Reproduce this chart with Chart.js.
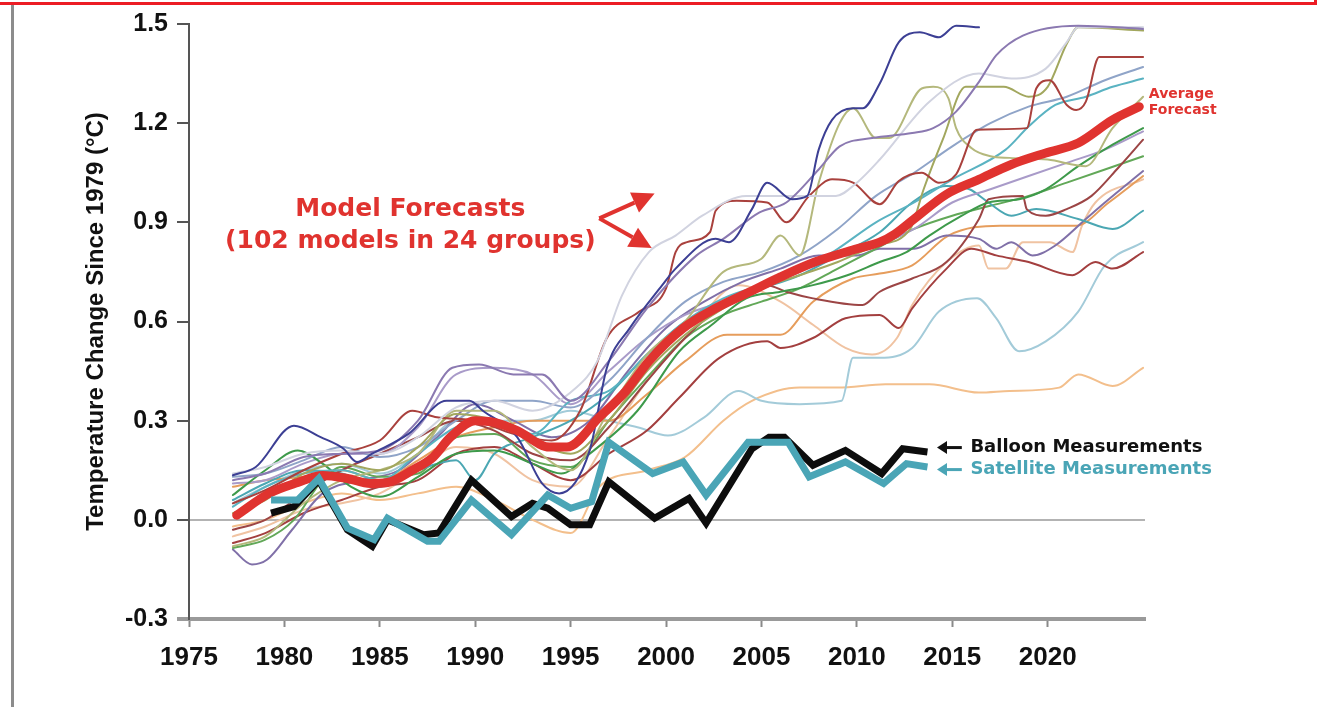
<!DOCTYPE html>
<html>
<head>
<meta charset="utf-8">
<script src="https://cdn.jsdelivr.net/npm/chart.js@4.4.1/dist/chart.umd.min.js"></script>
<style>
  html, body { margin: 0; padding: 0; background: #fff; }
  #wrap { position: relative; width: 1321px; height: 707px; }
  #frame { position: absolute; left: 0; top: 0; width: 1314px; height: 2px;
           border-bottom: 3px solid #ec1c24; border-right: 3px solid #ec1c24; }
  #rule { position: absolute; left: 11px; top: 5px; width: 3px; height: 702px; background: #8c8c8c; }
</style>
</head>
<body>
<div id="wrap">
  <canvas id="chart"></canvas>
  <div id="frame"></div>
  <div id="rule"></div>
</div>
<script>
// ---- data: [year, °C change since 1979] ----
const averageForecast = [[1977.5,0.014],[1979.2,0.08],[1980.7,0.113],[1982,0.134],[1983.3,0.125],[1984.5,0.11],[1985.4,0.113],[1986.7,0.15],[1987.8,0.19],[1988.7,0.25],[1990,0.30],[1991,0.295],[1992.2,0.27],[1993.9,0.22],[1994.8,0.22],[1996.5,0.31],[1997.9,0.39],[1999.1,0.48],[2000.9,0.58],[2002.6,0.64],[2004.4,0.69],[2006,0.735],[2007.8,0.78],[2010,0.82],[2011.2,0.84],[2012,0.865],[2013,0.91],[2014.7,0.985],[2016.4,1.03],[2018.1,1.075],[2019.9,1.11],[2021.6,1.14],[2023.4,1.21],[2024.8,1.25]];

const balloon = [[1979.3,0.02],[1980.5,0.04],[1981.8,0.12],[1983.3,-0.03],[1984.6,-0.08],[1985.4,0.0],[1987.3,-0.045],[1988.1,-0.04],[1989.8,0.12],[1991.9,0.01],[1993,0.05],[1993.8,0.035],[1995,-0.015],[1996,-0.015],[1997,0.115],[1999.4,0.005],[2001.2,0.065],[2002.1,-0.01],[2004.5,0.215],[2005.4,0.25],[2006.2,0.25],[2007.7,0.165],[2009.4,0.21],[2011.3,0.14],[2012.4,0.215],[2013.7,0.205]];

const satellite = [[1979.3,0.06],[1980.7,0.06],[1981.8,0.125],[1983.3,-0.025],[1984.7,-0.06],[1985.4,0.005],[1987.5,-0.065],[1988.1,-0.065],[1989.8,0.06],[1991.9,-0.045],[1993.8,0.075],[1995,0.035],[1996.1,0.055],[1997,0.235],[1999.3,0.14],[2000.9,0.175],[2002.1,0.075],[2004.3,0.235],[2006.4,0.235],[2007.5,0.13],[2009.4,0.175],[2011.4,0.11],[2012.6,0.17],[2013.7,0.16]];

// model group runs (thin lines)
const navyModel = [[1977.3,0.135],[1978.5,0.16],[1980.5,0.285],[1981.9,0.25],[1983.1,0.215],[1983.8,0.175],[1984.6,0.2],[1986.5,0.26],[1988.5,0.36],[1989.7,0.36],[1990.4,0.33],[1992.2,0.25],[1993.5,0.11],[1994.4,0.08],[1996,0.21],[1996.9,0.46],[1998.1,0.58],[1999.8,0.71],[2000.5,0.76],[2002.6,0.85],[2003.3,0.84],[2004.5,0.94],[2005.3,1.02],[2006.6,0.97],[2007.4,0.98],[2008,1.12],[2008.7,1.21],[2009.8,1.245],[2010.3,1.245],[2011.2,1.32],[2012.2,1.445],[2013.3,1.475],[2014.3,1.46],[2015.2,1.495],[2016.4,1.49]];
const greyModel = [[1977.3,0.14],[1979,0.16],[1981,0.2],[1983,0.21],[1985,0.2],[1987,0.25],[1989,0.34],[1991,0.36],[1993,0.33],[1995.3,0.40],[1996.4,0.48],[1997.7,0.68],[1999.1,0.81],[2000.5,0.86],[2001.9,0.92],[2004.2,0.98],[2006.3,0.98],[2008.9,0.98],[2010,1.02],[2011.2,1.09],[2013.8,1.265],[2016.4,1.35],[2018.1,1.335],[2019.9,1.365],[2021,1.445],[2021.6,1.49],[2025,1.49]];
const purpleModel = [[1977.3,0.12],[1979,0.14],[1981,0.19],[1983,0.2],[1985,0.21],[1987,0.3],[1988.8,0.46],[1990.2,0.47],[1992,0.44],[1993.5,0.44],[1995,0.36],[1997,0.48],[1999,0.64],[2001.6,0.80],[2003,0.85],[2004.9,0.93],[2006.3,0.96],[2008,1.06],[2009.1,1.13],[2010.8,1.155],[2012.9,1.17],[2014,1.185],[2015.2,1.235],[2016.4,1.325],[2017.3,1.405],[2018.7,1.465],[2021.6,1.495],[2025,1.485]];
const oliveModel = [[1977.3,0.02],[1979,0.06],[1981,0.14],[1983,0.17],[1985,0.15],[1987,0.22],[1989,0.32],[1991,0.3],[1993,0.24],[1995,0.2],[1997,0.3],[1999,0.45],[2001,0.56],[2003,0.64],[2005,0.7],[2007,0.74],[2009,0.78],[2011,0.83],[2012.8,0.88],[2013.5,1.0],[2014.5,1.15],[2015.7,1.31],[2017.7,1.31],[2019,1.28],[2020,1.31],[2021,1.44],[2021.6,1.49],[2025,1.48]];
const paleOliveModel = [[1977.3,-0.08],[1979,-0.05],[1981,0.05],[1983,0.12],[1985,0.15],[1987,0.2],[1989,0.33],[1991,0.33],[1993,0.22],[1995,0.15],[1997,0.33],[1999,0.5],[2001,0.6],[2003,0.75],[2005,0.79],[2006,0.86],[2007,0.8],[2008,1.02],[2009.1,1.2],[2009.8,1.245],[2011,1.155],[2011.7,1.155],[2013.4,1.305],[2014,1.31],[2014.8,1.275],[2015.2,1.185],[2016,1.125],[2017,1.10],[2018,1.095],[2020,1.09],[2022,1.07],[2023.4,1.185],[2025,1.28]];
const brickModel = [[1977.3,0.05],[1979,0.09],[1981,0.15],[1983,0.2],[1985,0.24],[1986.7,0.33],[1988,0.31],[1990,0.3],[1992,0.26],[1994,0.24],[1995.5,0.33],[1996.9,0.55],[1998.6,0.63],[2000,0.7],[2000.5,0.81],[2001.1,0.84],[2002.3,0.87],[2002.6,0.935],[2003.7,0.965],[2005.3,0.96],[2006.3,0.90],[2007.5,0.98],[2008.7,1.03],[2009.8,1.02],[2011.2,0.955],[2012.2,1.025],[2013.4,1.05],[2014.3,1.02],[2015.2,1.045],[2016.3,1.18],[2018.9,1.185],[2019.4,1.305],[2020.1,1.33],[2021,1.255],[2021.5,1.24],[2022,1.265],[2022.7,1.40],[2025,1.40]];
const steelModel = [[1977.3,0.13],[1979,0.14],[1981,0.18],[1983,0.22],[1985,0.19],[1987,0.22],[1989,0.3],[1991,0.36],[1993,0.36],[1995,0.34],[1997,0.42],[1999,0.55],[2001,0.66],[2003,0.72],[2005,0.75],[2007,0.8],[2009,0.88],[2011,0.98],[2013,1.05],[2015,1.13],[2017,1.2],[2019,1.25],[2021,1.28],[2023,1.33],[2025,1.37]];
const aquaModel = [[1977.3,0.04],[1979,0.1],[1981,0.14],[1983,0.15],[1985,0.12],[1987,0.2],[1989,0.28],[1991,0.3],[1993,0.26],[1995,0.36],[1997,0.39],[1999,0.5],[2001,0.6],[2003,0.67],[2005,0.71],[2007,0.75],[2009,0.82],[2011,0.9],[2013,0.96],[2015,1.03],[2017.8,1.12],[2019,1.19],[2020.4,1.255],[2022,1.28],[2023.4,1.31],[2025,1.335]];
const greenModel = [[1977.3,0.075],[1979,0.15],[1980.7,0.21],[1982,0.17],[1983.5,0.10],[1985,0.07],[1987,0.13],[1989,0.2],[1991,0.21],[1993,0.17],[1994.5,0.14],[1996,0.2],[1998.5,0.33],[2000.7,0.51],[2002.4,0.59],[2004.2,0.67],[2006,0.69],[2007.7,0.71],[2009.5,0.74],[2011.2,0.78],[2012.6,0.81],[2013.8,0.86],[2015.5,0.92],[2016.9,0.96],[2018.5,0.97],[2019.9,1.0],[2021.6,1.07],[2023.4,1.135],[2025,1.185]];
const lavenderModel = [[1977.3,0.11],[1979,0.12],[1981,0.17],[1983,0.2],[1985,0.2],[1987,0.28],[1989,0.44],[1991,0.46],[1993,0.44],[1995,0.35],[1997,0.45],[1999,0.55],[2001,0.62],[2003,0.66],[2005,0.70],[2007,0.76],[2009,0.80],[2011,0.83],[2013,0.88],[2015,0.96],[2017,1.0],[2019,1.04],[2021,1.08],[2023,1.12],[2025,1.175]];
const maroonModel = [[1977.3,-0.03],[1979,0.0],[1981,0.08],[1983,0.15],[1985,0.2],[1987,0.25],[1989,0.3],[1991,0.27],[1993,0.2],[1995,0.18],[1997,0.28],[1999,0.42],[2001,0.55],[2003,0.65],[2005.3,0.71],[2006.3,0.69],[2007.7,0.67],[2010.3,0.65],[2011.2,0.69],[2012.9,0.73],[2014.7,0.78],[2016.4,0.91],[2016.9,0.97],[2018.7,0.98],[2018.9,0.94],[2019.9,0.92],[2021,0.94],[2022.3,0.98],[2023.7,1.065],[2025,1.15]];
const violetModel = [[1977.3,-0.09],[1978.3,-0.135],[1979.1,-0.12],[1980.4,-0.03],[1982,0.08],[1984,0.12],[1986,0.15],[1988,0.25],[1990,0.35],[1992,0.3],[1994,0.25],[1996,0.3],[1998,0.45],[2000,0.58],[2002,0.66],[2004,0.72],[2006,0.76],[2008,0.80],[2010,0.80],[2011.2,0.82],[2013,0.82],[2014.7,0.86],[2016.4,0.85],[2017.3,0.82],[2018.1,0.84],[2019.2,0.80],[2020.4,0.83],[2022,0.91],[2023,0.96],[2025,1.055]];
const orangeModel = [[1977.3,0.1],[1979,0.12],[1981,0.13],[1983,0.15],[1985,0.12],[1987,0.18],[1989,0.25],[1991,0.28],[1993,0.3],[1995,0.3],[1997,0.3],[1999,0.38],[2001,0.48],[2003.2,0.56],[2006,0.56],[2007.7,0.66],[2009.8,0.73],[2011.2,0.745],[2012.9,0.77],[2014.8,0.86],[2017.5,0.89],[2019,0.89],[2021.5,0.89],[2023.2,0.96],[2025,1.04]];
const peachModel = [[1977.3,-0.05],[1979,-0.02],[1981,0.03],[1983,0.05],[1985,0.08],[1987,0.15],[1989,0.22],[1991,0.2],[1993,0.12],[1995,0.1],[1997,0.25],[1999,0.42],[2001,0.55],[2003.8,0.71],[2006,0.66],[2007.7,0.59],[2009.4,0.52],[2010.8,0.50],[2012.1,0.55],[2012.9,0.65],[2014.7,0.78],[2016.4,0.83],[2016.9,0.76],[2017.8,0.76],[2018.7,0.84],[2020.1,0.84],[2021.3,0.81],[2021.8,0.89],[2022.5,0.96],[2025,1.03]];
const tealModel = [[1977.3,0.06],[1979,0.11],[1981,0.15],[1983,0.14],[1985,0.1],[1987,0.15],[1989,0.18],[1990,0.12],[1991,0.2],[1993,0.25],[1995,0.3],[1997,0.38],[1999,0.5],[2001,0.6],[2003,0.66],[2005,0.7],[2007,0.74],[2009,0.8],[2011.2,0.87],[2012.9,0.96],[2014.7,1.01],[2015.9,1.0],[2016.9,0.96],[2018.1,0.92],[2019.4,0.94],[2021.6,0.91],[2023.4,0.88],[2025,0.935]];
const skyModel = [[1977.3,0.05],[1979,0.1],[1981,0.15],[1983,0.17],[1985,0.14],[1987,0.2],[1989,0.3],[1991,0.3],[1993,0.3],[1995,0.33],[1997,0.30],[1998.5,0.28],[2000.1,0.255],[2002,0.31],[2003.8,0.39],[2005,0.36],[2007,0.35],[2009.2,0.36],[2009.8,0.49],[2011.2,0.49],[2012.9,0.52],[2014.3,0.63],[2016.3,0.67],[2017.3,0.61],[2018.5,0.51],[2019.9,0.54],[2021.6,0.63],[2023,0.77],[2025,0.84]];
const rustModel = [[1977.3,-0.07],[1979,-0.04],[1981,0.02],[1983,0.06],[1985,0.1],[1987,0.12],[1989,0.2],[1991,0.22],[1993,0.17],[1995,0.12],[1997,0.2],[1999,0.27],[2000.7,0.37],[2002.8,0.49],[2005.3,0.54],[2006,0.52],[2007.7,0.55],[2009.4,0.61],[2011.2,0.62],[2012.2,0.58],[2012.9,0.64],[2014.7,0.76],[2016,0.82],[2017.3,0.80],[2019,0.78],[2021.3,0.74],[2022.5,0.78],[2023.4,0.76],[2025,0.81]];
const apricotModel = [[1977.3,-0.02],[1979,0.0],[1981,0.05],[1983,0.08],[1985,0.06],[1987,0.08],[1989,0.1],[1991,0.06],[1993,0.0],[1995,-0.04],[1996.5,0.1],[1999,0.15],[2001,0.19],[2003,0.30],[2004.5,0.36],[2007,0.40],[2009,0.40],[2011.5,0.41],[2013.8,0.41],[2016.4,0.385],[2018,0.39],[2020.6,0.40],[2021.6,0.44],[2023.4,0.405],[2025,0.46]];
const fernModel = [[1977.3,-0.085],[1979,-0.06],[1980.5,0.0],[1982,0.12],[1983,0.16],[1985,0.13],[1987,0.14],[1989,0.25],[1991,0.26],[1993,0.18],[1995,0.16],[1997,0.3],[1999,0.43],[2001,0.55],[2003,0.62],[2005,0.66],[2007,0.7],[2009,0.76],[2011,0.82],[2013,0.88],[2015,0.92],[2017,0.95],[2019,0.98],[2021,1.02],[2023,1.06],[2025,1.10]];

const modelRuns = [
  [apricotModel, '#f3bf8c'], [skyModel, '#a3cbd9'], [peachModel, '#f0c3a2'],
  [rustModel, '#a33f3f'], [orangeModel, '#e69d5c'], [violetModel, '#8070a8'],
  [fernModel, '#62a858'], [tealModel, '#4ba7b3'], [maroonModel, '#9c4545'],
  [lavenderModel, '#a99bc9'], [greenModel, '#3e9a4b'], [aquaModel, '#5ab3c2'],
  [steelModel, '#8fa4c8'], [paleOliveModel, '#b4b87c'], [oliveModel, '#a2a75e'],
  [brickModel, '#a9413d'], [greyModel, '#d1d3e0'], [purpleModel, '#8b79b1'],
  [navyModel, '#3c3f94']
];

const yearTicks = [1975, 1980, 1985, 1990, 1995, 2000, 2005, 2010, 2015, 2020];
const forecastNote = ['Model Forecasts', '(102 models in 24 groups)'];
const averageNote = ['Average', 'Forecast'];
const balloonNote = 'Balloon Measurements';
const satelliteNote = 'Satellite Measurements';

const RED = '#e0332f';
const SAT = '#4aa5b6';

function arrow(ctx, x0, y0, x1, y1, color, width, headLen, headW) {
  const a = Math.atan2(y1 - y0, x1 - x0);
  const bx = x1 - Math.cos(a) * headLen, by = y1 - Math.sin(a) * headLen;
  ctx.strokeStyle = color; ctx.fillStyle = color; ctx.lineWidth = width;
  ctx.beginPath(); ctx.moveTo(x0, y0); ctx.lineTo(bx, by); ctx.stroke();
  ctx.beginPath();
  ctx.moveTo(x1, y1);
  ctx.lineTo(bx + Math.sin(a) * headW / 2, by - Math.cos(a) * headW / 2);
  ctx.lineTo(bx - Math.sin(a) * headW / 2, by + Math.cos(a) * headW / 2);
  ctx.closePath(); ctx.fill();
}

const notes = {
  id: 'notes',
  afterDatasetsDraw(chart) {
    const { ctx, scales: { x, y } } = chart;
    const px = v => x.getPixelForValue(v), py = v => y.getPixelForValue(v);
    ctx.save();
    ctx.textBaseline = 'middle';

    ctx.fillStyle = RED;
    ctx.textAlign = 'center';
    ctx.font = 'bold 25px "DejaVu Sans"';
    ctx.fillText(forecastNote[0], px(1986.6), py(0.939));
    ctx.fillText(forecastNote[1], px(1986.6), py(0.843));
    arrow(ctx, px(1996.5), py(0.912), px(1999.4), py(0.987), RED, 4, 22, 22);
    arrow(ctx, px(1996.5), py(0.912), px(1999.25), py(0.822), RED, 4, 22, 22);

    ctx.textAlign = 'left';
    ctx.font = 'bold 14px "DejaVu Sans"';
    ctx.fillText(averageNote[0], px(2025.3), py(1.286));
    ctx.fillText(averageNote[1], px(2025.3), py(1.240));

    ctx.font = 'bold 18px "DejaVu Sans"';
    ctx.fillStyle = '#111';
    ctx.fillText(balloonNote, px(2015.95), py(0.2186));
    arrow(ctx, px(2015.5), py(0.2186), px(2014.2), py(0.2186), '#111', 3, 10, 13);
    ctx.fillStyle = SAT;
    ctx.fillText(satelliteNote, px(2015.95), py(0.152));
    arrow(ctx, px(2015.5), py(0.152), px(2014.2), py(0.152), SAT, 3, 10, 13);
    ctx.restore();
  }
};

const thin = ([data, color]) => ({
  data, borderColor: color, borderWidth: 2, pointRadius: 0,
  cubicInterpolationMode: 'monotone', borderCapStyle: 'round', borderJoinStyle: 'round'
});

const bottomTick = c => Math.abs(c.tick.value + 0.3) < 1e-6;

new Chart(document.getElementById('chart'), {
  type: 'line',
  data: {
    datasets: [
      { data: satellite, borderColor: SAT, borderWidth: 7, pointRadius: 0, tension: 0, borderJoinStyle: 'miter' },
      { data: balloon, borderColor: '#0d0d0d', borderWidth: 7, pointRadius: 0, tension: 0, borderJoinStyle: 'miter' },
      { data: averageForecast, borderColor: RED, borderWidth: 9, pointRadius: 0, cubicInterpolationMode: 'monotone', borderCapStyle: 'round' },
      ...modelRuns.slice().reverse().map(thin)
    ]
  },
  options: {
    responsive: true,
    maintainAspectRatio: false,
    animation: false,
    events: [],
    layout: { padding: { left: 0, top: 22, right: 176, bottom: 0 } },
    plugins: { legend: { display: false }, tooltip: { enabled: false } },
    scales: {
      x: {
        type: 'linear', min: 1975, max: 2025.1,
        afterBuildTicks: axis => { axis.ticks = yearTicks.map(v => ({ value: v })); },
        afterFit: axis => { axis.height = 88; },
        border: { color: '#9a9a9a', width: 4 },
        grid: { drawOnChartArea: false, tickLength: 8, tickColor: '#8a8a8a', tickWidth: 2 },
        ticks: { color: '#111', padding: 15, maxRotation: 0, font: { family: '"Liberation Sans", Arial', weight: 'bold', size: 26 },
                 callback: v => String(v) }
      },
      y: {
        min: -0.3, max: 1.5,
        afterFit: axis => { axis.width = 189; },
        border: { color: '#555', width: 2 },
        grid: {
          color: c => Math.abs(c.tick.value) < 1e-6 ? '#b3b3b3' : 'rgba(0,0,0,0)',
          lineWidth: 2, tickLength: 12,
          tickColor: c => bottomTick(c) ? '#9a9a9a' : '#555',
          tickWidth: c => bottomTick(c) ? 4 : 2
        },
        ticks: { stepSize: 0.3, color: '#111', padding: 9,
                 font: { family: '"Liberation Sans", Arial', weight: 'bold', size: 25 },
                 callback: v => v.toFixed(1) },
        title: { display: true, text: 'Temperature Change Since 1979 (°C)', color: '#111',
                 font: { family: '"Liberation Sans", Arial', weight: 'bold', size: 24 },
                 padding: { top: 82, bottom: 0 } }
      }
    }
  },
  plugins: [notes]
});
</script>
</body>
</html>
